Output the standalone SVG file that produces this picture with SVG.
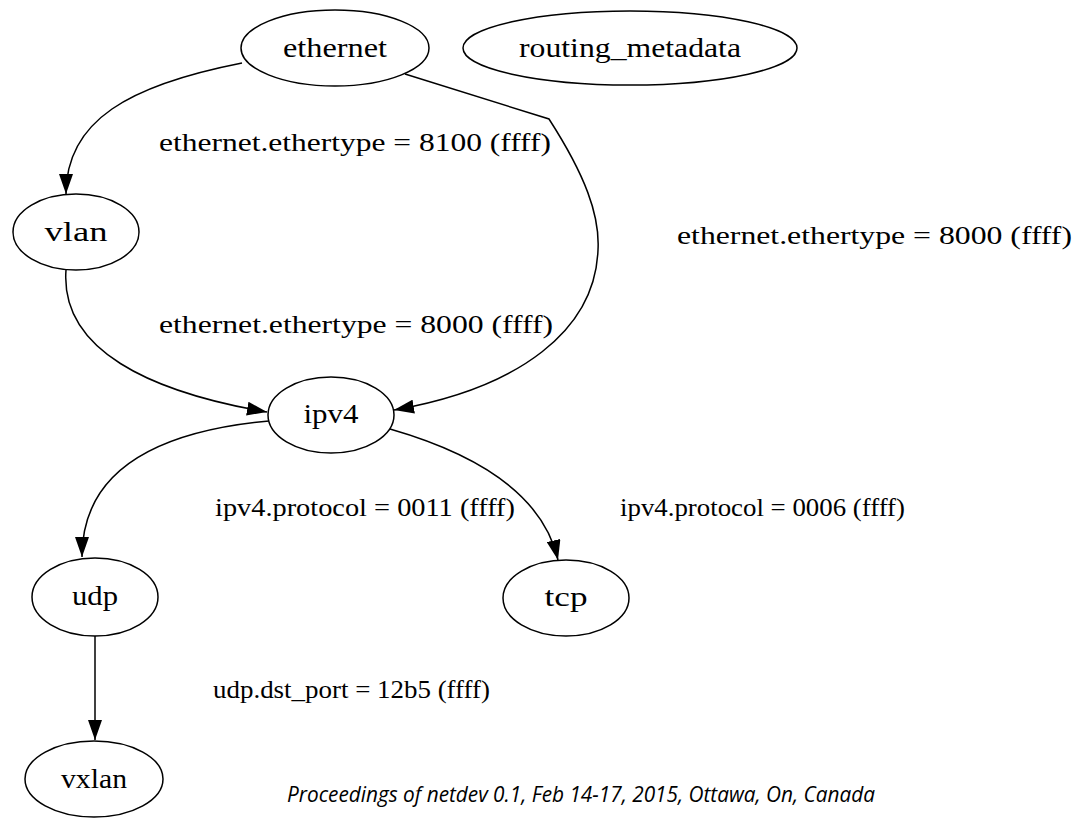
<svg xmlns="http://www.w3.org/2000/svg" width="1075" height="818" viewBox="0 0 1075 818">
  <style>
    .node ellipse { fill: #ffffff; stroke: #000000; stroke-width: 1.5; }
    .node text { font-family: "Liberation Serif", "Times New Roman", serif; font-size: 27px; fill: #000000; text-anchor: middle; }
    .edge { fill: none; stroke: #000000; stroke-width: 1.5; marker-end: url(#arrow); }
    .label { font-family: "Liberation Serif", "Times New Roman", serif; font-size: 26px; fill: #000000; }
    .footer { font-family: "Open Sans", "Noto Sans", sans-serif; font-style: italic; font-size: 22px; fill: #000000; }
  </style>
  <defs>
    <marker id="arrow" viewBox="0 0 20 14" refX="20" refY="7" markerWidth="20" markerHeight="14" markerUnits="userSpaceOnUse" orient="auto">
      <path d="M0,0 L20,7 L0,14 Z" fill="#000000"/>
    </marker>
  </defs>

  <rect x="0" y="0" width="1075" height="818" fill="#ffffff"/>

  <!-- connectors -->
  <g id="edges">
    <path class="edge" d="M242,63 C130,85 66,120 66,194"/>
    <path class="edge" d="M405,74 L549,119 C585,175 600,215 598,250 C595,330 520,388 394,410"/>
    <path class="edge" d="M66,270 C60,350 150,392 267,412"/>
    <path class="edge" d="M269,421 C150,432 82,475 82,557"/>
    <path class="edge" d="M390,429 C470,452 542,490 558,560"/>
    <path class="edge" d="M95,636 L95,740"/>
  </g>

  <!-- edge labels -->
  <g id="edge-labels">
    <text class="label" x="159" y="151" textLength="392" lengthAdjust="spacingAndGlyphs">ethernet.ethertype = 8100 (ffff)</text>
    <text class="label" x="677" y="244" textLength="395" lengthAdjust="spacingAndGlyphs">ethernet.ethertype = 8000 (ffff)</text>
    <text class="label" x="159" y="333" textLength="394" lengthAdjust="spacingAndGlyphs">ethernet.ethertype = 8000 (ffff)</text>
    <text class="label" x="215" y="516" textLength="300" lengthAdjust="spacingAndGlyphs">ipv4.protocol = 0011 (ffff)</text>
    <text class="label" x="620" y="516" textLength="285" lengthAdjust="spacingAndGlyphs">ipv4.protocol = 0006 (ffff)</text>
    <text class="label" x="213" y="698" textLength="277" lengthAdjust="spacingAndGlyphs">udp.dst_port = 12b5 (ffff)</text>
  </g>

  <!-- nodes -->
  <g id="node-ethernet" class="node">
    <ellipse cx="335" cy="48" rx="94" ry="38"/>
    <text x="335" y="57" textLength="104" lengthAdjust="spacingAndGlyphs">ethernet</text>
  </g>
  <g id="node-routing_metadata" class="node">
    <ellipse cx="630" cy="48" rx="167" ry="37"/>
    <text x="630" y="57" textLength="222" lengthAdjust="spacingAndGlyphs">routing_metadata</text>
  </g>
  <g id="node-vlan" class="node">
    <ellipse cx="76" cy="232" rx="63" ry="38"/>
    <text x="76" y="241" textLength="63" lengthAdjust="spacingAndGlyphs">vlan</text>
  </g>
  <g id="node-ipv4" class="node">
    <ellipse cx="331" cy="415" rx="63" ry="38"/>
    <text x="331" y="423" textLength="55" lengthAdjust="spacingAndGlyphs">ipv4</text>
  </g>
  <g id="node-udp" class="node">
    <ellipse cx="95" cy="597" rx="63" ry="39"/>
    <text x="95" y="605" textLength="46" lengthAdjust="spacingAndGlyphs">udp</text>
  </g>
  <g id="node-tcp" class="node">
    <ellipse cx="566" cy="598" rx="63" ry="38"/>
    <text x="566" y="606" textLength="43" lengthAdjust="spacingAndGlyphs">tcp</text>
  </g>
  <g id="node-vxlan" class="node">
    <ellipse cx="94" cy="779" rx="69" ry="38"/>
    <text x="94" y="788" textLength="66" lengthAdjust="spacingAndGlyphs">vxlan</text>
  </g>

  <!-- footer -->
  <text class="footer" x="287" y="802" textLength="588" lengthAdjust="spacingAndGlyphs">Proceedings of netdev 0.1, Feb 14-17, 2015, Ottawa, On, Canada</text>
</svg>
